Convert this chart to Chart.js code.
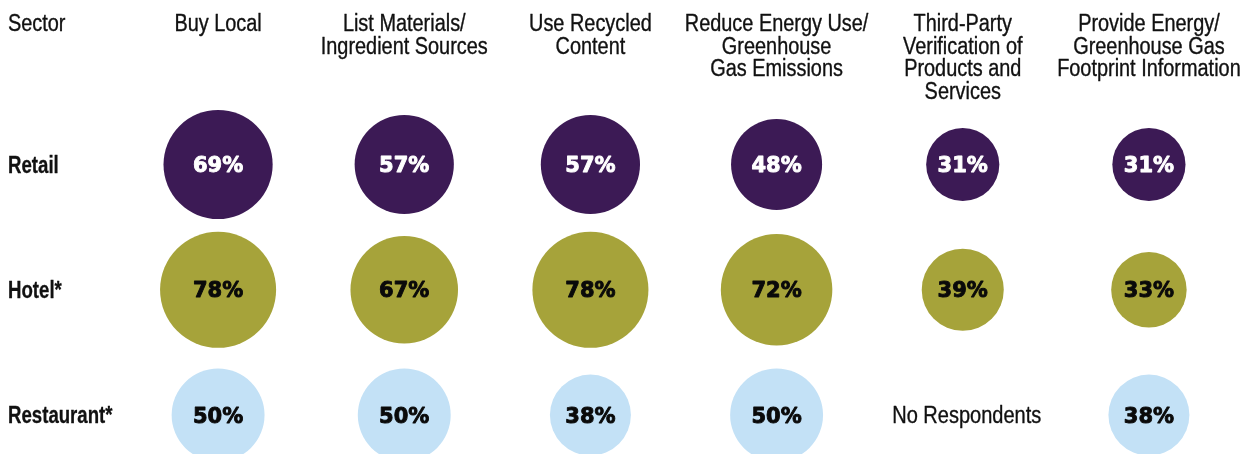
<!DOCTYPE html>
<html>
<head>
<meta charset="utf-8">
<script src="https://cdn.jsdelivr.net/npm/chart.js@4/dist/chart.umd.min.js"></script>
<style>
  html, body { margin: 0; padding: 0; background: #ffffff; }
  #wrap { width: 1249px; height: 454px; position: relative; }
</style>
</head>
<body>
<div id="wrap"><canvas id="c" width="1249" height="454"></canvas></div>
<script>
// ---- data ----
const categories = [
  ["Buy Local"],
  ["List Materials/", "Ingredient Sources"],
  ["Use Recycled", "Content"],
  ["Reduce Energy Use/", "Greenhouse", "Gas Emissions"],
  ["Third-Party", "Verification of", "Products and", "Services"],
  ["Provide Energy/", "Greenhouse Gas", "Footprint Information"]
];
const sectors = ["Retail", "Hotel*", "Restaurant*"];
const retailValues = [69, 57, 57, 48, 31, 31];
const hotelValues = [78, 67, 78, 72, 39, 33];
const restaurantValues = [50, 50, 38, 50, null, 38];
const cornerLabel = "Sector";
const missingLabel = "No Respondents";

// ---- styles ----
const seriesColors = ["#3c1a55", "#a6a33a", "#c3e1f6"];
const labelColors = ["#ffffff", "#0a0a0a", "#0a0a0a"];
const RADIUS_K = 6.57; // bubble area proportional to value
const SANS = "'Liberation Sans', Arial, sans-serif";
const BOLDWIDE = "'DejaVu Sans', sans-serif";

const allValues = [retailValues, hotelValues, restaurantValues];

const datasets = allValues.map((vals, row) => ({
  label: sectors[row],
  data: vals.map((v, i) => v == null ? null : { x: i, y: row, r: RADIUS_K * Math.sqrt(v), v: v })
            .filter(d => d !== null),
  backgroundColor: seriesColors[row],
  borderWidth: 0,
  hoverBorderWidth: 0,
  clip: false
}));

// condensed text: draw a normal sans horizontally compressed, with optional thickening stroke
function narrowText(ctx, text, x, y, sx, align, stroke) {
  ctx.save();
  ctx.translate(x, y);
  ctx.scale(sx, 1);
  ctx.textAlign = align;
  ctx.fillText(text, 0, 0);
  if (stroke) {
    ctx.lineWidth = stroke;
    ctx.strokeStyle = ctx.fillStyle;
    ctx.lineJoin = "round";
    ctx.strokeText(text, 0, 0);
  }
  ctx.restore();
}

const textPlugin = {
  id: 'textPlugin',
  afterDatasetsDraw(chart) {
    const ctx = chart.ctx;
    const xs = chart.scales.x, ys = chart.scales.y;
    ctx.save();
    ctx.textBaseline = "alphabetic";
    // column headers
    ctx.fillStyle = "#111111";
    ctx.font = "23px " + SANS;
    categories.forEach((lines, i) => {
      const px = xs.getPixelForValue(i);
      lines.forEach((ln, j) => narrowText(ctx, ln, px, 31 + j * 22.7, 0.865, "center", 0.35));
    });
    // corner label
    narrowText(ctx, cornerLabel, 8, 31, 0.865, "left", 0.35);
    // row labels
    ctx.font = "bold 23px " + SANS;
    sectors.forEach((s, r) => {
      narrowText(ctx, s, 8, ys.getPixelForValue(r) + 8, 0.81, "left", 0.3);
    });
    // values inside bubbles / missing labels
    allValues.forEach((vals, r) => {
      vals.forEach((v, i) => {
        const px = xs.getPixelForValue(i);
        const py = ys.getPixelForValue(r);
        if (v == null) {
          ctx.fillStyle = "#111111";
          ctx.font = "23px " + SANS;
          narrowText(ctx, missingLabel, px + 4, py + 8, 0.87, "center", 0.35);
        } else {
          ctx.fillStyle = labelColors[r];
          ctx.font = "bold 21px " + BOLDWIDE;
          narrowText(ctx, v + "%", px, py + 7.5, 1.0, "center", 0.9);
        }
      });
    });
    ctx.restore();
  }
};

new Chart(document.getElementById('c'), {
  type: 'bubble',
  data: { datasets },
  options: {
    responsive: false,
    animation: false,
    events: [],
    layout: { autoPadding: false, padding: { left: 125, right: 7, top: 100, bottom: 0 } },
    plugins: { legend: { display: false }, tooltip: { enabled: false } },
    scales: {
      x: { type: 'linear', min: -0.5, max: categories.length - 0.5, display: false },
      y: { type: 'linear', reverse: true, min: -0.515, max: 2.311, display: false }
    }
  },
  plugins: [textPlugin]
});
</script>
</body>
</html>
